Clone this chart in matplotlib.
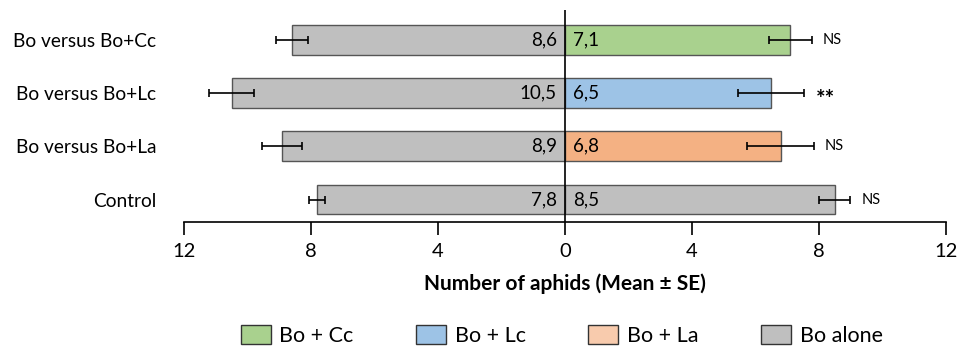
import numpy as np
import matplotlib.pyplot as plt
from matplotlib.patches import Patch

plt.rcParams['font.family'] = ['Lato', 'DejaVu Sans']

# data (bottom to top)
categories = ["Control", "Bo versus Bo+La", "Bo versus Bo+Lc", "Bo versus Bo+Cc"]
bo_alone = [7.8, 8.9, 10.5, 8.6]
bo_alone_se = [0.25, 0.63, 0.72, 0.5]
mixed = [8.5, 6.8, 6.5, 7.1]
mixed_se = [0.5, 1.05, 1.05, 0.68]
signif = ["NS", "NS", "**", "NS"]
mixed_colors = ["#BFBFBF", "#F4B183", "#9DC3E6", "#A9D18E"]
legend_labels = ["Bo + Cc", "Bo + Lc", "Bo + La", "Bo alone"]
legend_colors = ["#A9D18E", "#9DC3E6", "#F8CBAD", "#BFBFBF"]
ticks = [-12, -8, -4, 0, 4, 8, 12]

fig = plt.figure(figsize=(9.6, 3.5), dpi=100)
ax = fig.add_axes([0.1917, 0.366, 0.7933, 0.605])

y = np.arange(len(categories))
h = 0.56
left = -np.array(bo_alone)
ax.barh(y, left, height=h, color="#BFBFBF", edgecolor="#555555", lw=1)
ax.barh(y, mixed, height=h, color=mixed_colors, edgecolor="#555555", lw=1)
ax.errorbar(left, y, xerr=bo_alone_se, fmt="none", ecolor="black", elinewidth=1.2, capsize=3, capthick=1.2)
ax.errorbar(mixed, y, xerr=mixed_se, fmt="none", ecolor="black", elinewidth=1.2, capsize=3, capthick=1.2)

for i in range(len(categories)):
    ax.text(-0.25, y[i], f"{bo_alone[i]:.1f}".replace(".", ","), ha="right", va="center", fontsize=13.5)
    ax.text(0.25, y[i], f"{mixed[i]:.1f}".replace(".", ","), ha="left", va="center", fontsize=13.5)
    xs = mixed[i] + mixed_se[i] + 0.35
    if signif[i] == "**":
        ax.text(xs, y[i] - 0.12, signif[i], ha="left", va="center", fontsize=16, fontweight="bold")
    else:
        ax.text(xs, y[i], signif[i], ha="left", va="center", fontsize=10.5)

ax.axvline(0, color="black", lw=1.2)
ax.set_xlim(-12, 12)
ax.set_ylim(-0.42, 3.56)
ax.set_xticks(ticks)
ax.set_xticklabels([str(abs(t)) for t in ticks], fontsize=14.5)
ax.set_yticks(y)
ax.set_yticklabels(categories, fontsize=13.8)
ax.tick_params(axis="y", length=0, pad=20)
ax.tick_params(axis="x", direction="out", length=9, width=1.2, pad=6)
for s in ["top", "right", "left"]:
    ax.spines[s].set_visible(False)
ax.spines["bottom"].set_linewidth(1.2)
ax.set_xlabel("Number of aphids (Mean ± SE)", fontsize=15, fontweight="bold", labelpad=10)

handles = [Patch(facecolor=c, edgecolor="#333333", lw=1) for c in legend_colors]
fig.legend(handles, legend_labels, loc="lower center", bbox_to_anchor=(0.585, 0.0), ncol=4,
           frameon=False, fontsize=15.5, handlelength=1.4, handleheight=1.0,
           columnspacing=2.9, handletextpad=0.4, borderpad=0.1, borderaxespad=0.1)

fig.savefig("out.png", dpi=100)
